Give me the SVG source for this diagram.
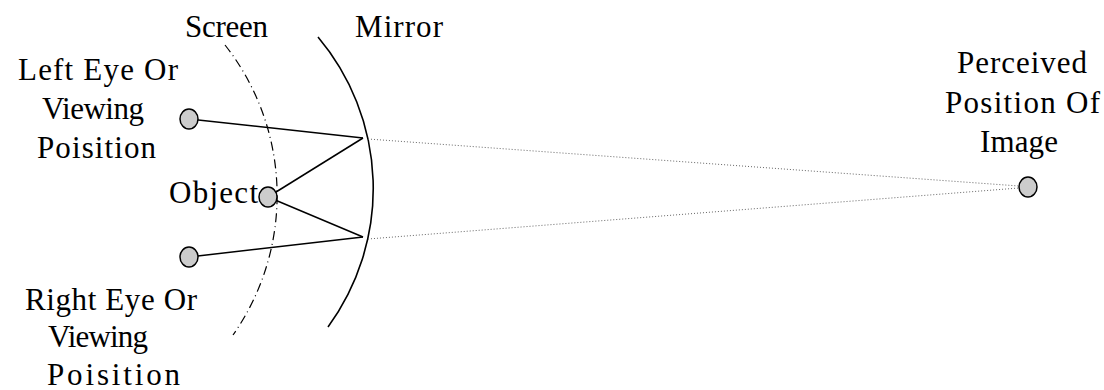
<svg xmlns="http://www.w3.org/2000/svg" width="1104" height="390" viewBox="0 0 1104 390">
<style>
text{font-family:'Liberation Serif','Times New Roman','DejaVu Serif',serif;font-size:31px;fill:#000}
.pt{fill:#cccccc;stroke:#000;stroke-width:1.5}
.ray{stroke:#000;stroke-width:1.5;fill:none}
.virt{stroke:#666;stroke-width:1;stroke-dasharray:1 2;fill:none}
.mirror{stroke:#000;stroke-width:1.6;fill:none}
.screen{stroke:#000;stroke-width:1.2;stroke-dasharray:9 4 1 4;fill:none}
</style>
<rect width="1104" height="390" fill="#fff"/>
<g id="screen">
<path class="screen" d="M 225 45 A 243 243 0 0 1 233 335"/>
<text x="185" y="37" textLength="83" lengthAdjust="spacing">Screen</text>
</g>
<g id="mirror">
<path class="mirror" d="M 318 37 A 235 235 0 0 1 328 327"/>
<text x="355" y="37" textLength="88" lengthAdjust="spacing">Mirror</text>
</g>
<g id="connectors">
<line class="ray" x1="189" y1="119" x2="363" y2="138"/>
<line class="ray" x1="363" y1="138" x2="268" y2="197"/>
<line class="ray" x1="268" y1="197" x2="363" y2="237"/>
<line class="ray" x1="363" y1="237" x2="189" y2="257"/>
<line class="virt" x1="368" y1="139" x2="1019" y2="186"/>
<line class="virt" x1="368" y1="239" x2="1019" y2="188"/>
</g>
<g id="left-eye">
<ellipse class="pt" cx="189" cy="119" rx="9" ry="10"/>
<text x="18" y="80" textLength="160" lengthAdjust="spacing">Left Eye Or</text>
<text x="42" y="119" textLength="102" lengthAdjust="spacing">Viewing</text>
<text x="37" y="158" textLength="119" lengthAdjust="spacing">Poisition</text>
</g>
<g id="object">
<ellipse class="pt" cx="268" cy="197" rx="9" ry="10"/>
<text x="169" y="203" textLength="89" lengthAdjust="spacing">Object</text>
</g>
<g id="right-eye">
<ellipse class="pt" cx="189" cy="257" rx="9" ry="10"/>
<text x="25" y="310" textLength="172" lengthAdjust="spacing">Right Eye Or</text>
<text x="48" y="347" textLength="100" lengthAdjust="spacing">Viewing</text>
<text x="47" y="385" textLength="133" lengthAdjust="spacing">Poisition</text>
</g>
<g id="image">
<ellipse class="pt" cx="1028" cy="187" rx="9" ry="10"/>
<text x="957" y="73" textLength="130" lengthAdjust="spacing">Perceived</text>
<text x="945" y="113" textLength="155" lengthAdjust="spacing">Position Of</text>
<text x="980" y="152" textLength="78" lengthAdjust="spacing">Image</text>
</g>
</svg>
